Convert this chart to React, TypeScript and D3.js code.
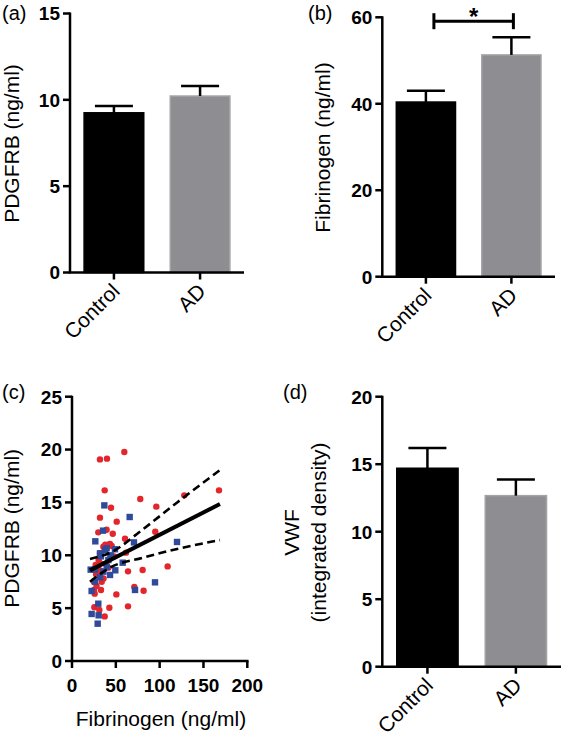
import React from "react";
import * as d3 from "d3";

// ---------- data ----------
const CATEGORIES = ["Control", "AD"];

const PDGFRB_MEAN = [9.25, 10.22];
const PDGFRB_SEM = [0.4, 0.58];
const PDGFRB_TICKS = [0, 5, 10, 15];

const FIB_MEAN = [40.4, 51.3];
const FIB_SEM = [2.6, 4.1];
const FIB_TICKS = [0, 20, 40, 60];

const VWF_MEAN = [14.7, 12.67];
const VWF_SEM = [1.5, 1.2];
const VWF_TICKS = [0, 5, 10, 15, 20];

const SCATTER_X_TICKS = [0, 50, 100, 150, 200];
const SCATTER_Y_TICKS = [0, 5, 10, 15, 20, 25];

// red circles: [fibrinogen, PDGFRB]
const RED_POINTS: [number, number][] = [
  [31.9, 19.07], [39.9, 19.14], [59.7, 19.77], [37.3, 16.14], [167.7, 16.14],
  [128.1, 15.67], [77.9, 15.32], [96.2, 14.6], [44.5, 14.5], [31.9, 13.56],
  [51, 13.18], [39.5, 12.42], [30, 12.17], [46.5, 12.04], [95, 12.23],
  [60.5, 11.57], [61.6, 10.25], [38, 10.75], [43.3, 11.07], [41.5, 10.97],
  [45.3, 10.88], [35.8, 10.8], [32, 10.19], [109.1, 8.95], [80.6, 8.61],
  [63.9, 8.48], [30.4, 9.55], [32, 9.24], [27, 9.08], [41.4, 8.83],
  [29, 8.7], [34, 8.5], [27.5, 8.2], [31, 8.0], [25.1, 7.5],
  [33.9, 7.5], [36, 7.8], [25.1, 6.72], [33.1, 6.72], [71.1, 7.0],
  [81.7, 6.65], [50.6, 6.3], [63.9, 5.17], [42.6, 5.04], [31.2, 4.82],
  [25.5, 5.08], [37.3, 4.22], [25.9, 6.37], [44, 9.9], [48, 9.9],
  [38.5, 9.2], [28, 7.1], [30, 8.9], [38, 11.0], [42, 11.0],
];

// blue squares
const BLUE_POINTS: [number, number][] = [
  [36.9, 14.72], [65.8, 13.62], [35.4, 12.33], [26.6, 11.32], [70.7, 11.22],
  [119.8, 11.26], [57.8, 9.3], [49, 10.57], [37.7, 10.5], [44.1, 10.0],
  [41.5, 9.55], [21.3, 8.64], [26.2, 8.64], [39.6, 8.92], [49.4, 8.58],
  [35.8, 8.45], [43.4, 8.14], [32, 7.92], [26.3, 7.5], [22.4, 6.62],
  [94.7, 7.44], [71.9, 6.72], [30, 5.42], [22.4, 4.45], [30.4, 4.32],
  [29.3, 3.53], [39.5, 10.66], [31.9, 10.18], [33, 9.9],
];

const FIT_X = [20.5, 168.8];
const FIT_Y = [8.57, 14.85];
const BAND_X = [20.5, 45, 80, 120, 168.8];
const BAND_UPPER = [9.65, 10.3, 12.4, 15.0, 18.06];
const BAND_LOWER = [7.5, 8.9, 9.75, 10.6, 11.44];

// ---------- styles ----------
const FONT = "'Liberation Sans', Arial, Helvetica, sans-serif";
const BAR_COLORS = ["#000000", "#8e8e92"];
const BAR_STROKES = ["#000000", "#a4a4a7"];
const RED = "#e2262b";
const BLUE = "#2f4a9b";

type BarPanelProps = {
  axisX: number;
  xEnd: number;
  yTop: number;
  yBottom: number;
  ticks: number[];
  means: number[];
  sems: number[];
  render?: (x: d3.ScaleBand<string>, y: d3.ScaleLinear<number, number>) => React.ReactNode;
};

function BarPanel({ axisX, xEnd, yTop, yBottom, ticks, means, sems, render }: BarPanelProps) {
  const y = d3.scaleLinear().domain([0, d3.max(ticks)!]).range([yBottom, yTop]);
  const x = d3
    .scaleBand<string>()
    .domain(CATEGORIES)
    .range([axisX, xEnd])
    .paddingInner(0.29)
    .paddingOuter(0.155);
  const bw = x.bandwidth();
  const cap = 19;
  return (
    <g>
      {CATEGORIES.map((c, i) => (
        <rect
          key={c}
          x={x(c)! + 0.75}
          y={y(means[i])}
          width={bw - 1.5}
          height={y(0) - y(means[i])}
          fill={BAR_COLORS[i]}
          stroke={BAR_STROKES[i]}
          strokeWidth={1.5}
        />
      ))}
      {CATEGORIES.map((c, i) => {
        const cx = x(c)! + bw / 2;
        return (
          <g key={c} stroke="#000" strokeWidth={2.5}>
            <line x1={cx} x2={cx} y1={y(means[i])} y2={y(means[i] + sems[i])} />
            <line x1={cx - cap} x2={cx + cap} y1={y(means[i] + sems[i])} y2={y(means[i] + sems[i])} />
          </g>
        );
      })}
      {/* y axis */}
      <line x1={axisX} x2={axisX} y1={yTop - 1} y2={yBottom} stroke="#000" strokeWidth={2.5} />
      {ticks.map((t) => (
        <g key={t}>
          <line x1={axisX - 7} x2={axisX} y1={y(t)} y2={y(t)} stroke="#000" strokeWidth={2.5} />
          <text
            x={axisX - 10}
            y={y(t)}
            dy="0.36em"
            textAnchor="end"
            fontFamily={FONT}
            fontWeight="bold"
            fontSize={19}
          >
            {t}
          </text>
        </g>
      ))}
      {/* x axis */}
      <line x1={axisX - 1.25} x2={xEnd} y1={yBottom} y2={yBottom} stroke="#000" strokeWidth={2.5} />
      {CATEGORIES.map((c) => {
        const cx = x(c)! + bw / 2;
        return (
          <g key={c}>
            <line x1={cx} x2={cx} y1={yBottom} y2={yBottom + 7} stroke="#000" strokeWidth={2.5} />
            <text
              transform={`translate(${cx + 7},${yBottom + 20}) rotate(-45)`}
              textAnchor="end"
              fontFamily={FONT}
              fontSize={21}
            >
              {c}
            </text>
          </g>
        );
      })}
      {render ? render(x, y) : null}
    </g>
  );
}

function ScatterPanel() {
  const x = d3.scaleLinear().domain([0, 200]).range([72, 247.3]);
  const y = d3.scaleLinear().domain([0, 25]).range([661, 396.7]);
  const fitLine = d3
    .line<number>()
    .x((_, i) => x(FIT_X[i]))
    .y((v) => y(v));
  const band = d3
    .line<number>()
    .x((_, i) => x(BAND_X[i]))
    .y((v) => y(v))
    .curve(d3.curveMonotoneX);
  const s = 6.4;
  return (
    <g>
      {RED_POINTS.map(([a, b], i) => (
        <circle key={"r" + i} cx={x(a)} cy={y(b)} r={3.2} fill={RED} />
      ))}
      {BLUE_POINTS.map(([a, b], i) => (
        <rect key={"b" + i} x={x(a) - s / 2} y={y(b) - s / 2} width={s} height={s} fill={BLUE} />
      ))}
      <path d={band(BAND_UPPER) || ""} fill="none" stroke="#000" strokeWidth={2.6} strokeDasharray="8,4.5" />
      <path d={band(BAND_LOWER) || ""} fill="none" stroke="#000" strokeWidth={2.6} strokeDasharray="8,4.5" />
      <path d={fitLine(FIT_Y) || ""} fill="none" stroke="#000" strokeWidth={4} />
      {/* axes */}
      <line x1={x(0)} x2={x(0)} y1={y(25) - 1} y2={y(0)} stroke="#000" strokeWidth={2.5} />
      {SCATTER_Y_TICKS.map((t) => (
        <g key={t}>
          <line x1={x(0) - 7} x2={x(0)} y1={y(t)} y2={y(t)} stroke="#000" strokeWidth={2.5} />
          <text x={x(0) - 10} y={y(t)} dy="0.36em" textAnchor="end" fontFamily={FONT} fontWeight="bold" fontSize={19}>
            {t}
          </text>
        </g>
      ))}
      <line x1={x(0) - 1.25} x2={x(200) + 1.25} y1={y(0)} y2={y(0)} stroke="#000" strokeWidth={2.5} />
      {SCATTER_X_TICKS.map((t) => (
        <g key={t}>
          <line x1={x(t)} x2={x(t)} y1={y(0)} y2={y(0) + 7} stroke="#000" strokeWidth={2.5} />
          <text x={x(t)} y={y(0) + 31} textAnchor="middle" fontFamily={FONT} fontWeight="bold" fontSize={19}>
            {t}
          </text>
        </g>
      ))}
      <text x={161} y={726} textAnchor="middle" fontFamily={FONT} fontSize={21}>
        Fibrinogen (ng/ml)
      </text>
    </g>
  );
}

function YTitle({ x, y, lines }: { x: number; y: number; lines: string[] }) {
  return (
    <text transform={`translate(${x},${y}) rotate(-90)`} textAnchor="middle" fontFamily={FONT} fontSize={21}>
      {lines.map((l, i) => (
        <tspan key={i} x={0} dy={i === 0 ? 0 : 27}>
          {l}
        </tspan>
      ))}
    </text>
  );
}

export default function App() {
  return (
    <svg
      width={566}
      height={742}
      viewBox="0 0 566 742"
      style={{ position: "absolute", left: 0, top: 0, background: "#fff" }}
    >
      <rect width={566} height={742} fill="#fff" />
      {/* (a) */}
      <text x={2} y={20} fontFamily={FONT} fontSize={20}>(a)</text>
      <YTitle x={19} y={143.5} lines={["PDGFRB (ng/ml)"]} />
      <BarPanel axisX={70} xEnd={244} yTop={13.5} yBottom={272.5} ticks={PDGFRB_TICKS} means={PDGFRB_MEAN} sems={PDGFRB_SEM} />

      {/* (b) */}
      <text x={308} y={20} fontFamily={FONT} fontSize={20}>(b)</text>
      <YTitle x={330} y={147.5} lines={["Fibrinogen (ng/ml)"]} />
      <BarPanel
        axisX={382.3}
        xEnd={555}
        yTop={17.3}
        yBottom={276.7}
        ticks={FIB_TICKS}
        means={FIB_MEAN}
        sems={FIB_SEM}
        render={(x, y) => {
          const bw = x.bandwidth();
          const x1 = x(CATEGORIES[0])! + bw / 2 + 8;
          const x2 = x(CATEGORIES[1])! + bw / 2 + 2;
          const yy = y(59.1);
          return (
            <g>
              <g stroke="#000" strokeWidth={3}>
                <line x1={x1} x2={x2} y1={yy} y2={yy} />
                <line x1={x1} x2={x1} y1={yy - 8} y2={yy + 8} />
                <line x1={x2} x2={x2} y1={yy - 8} y2={yy + 8} />
              </g>
              <text x={(x1 + x2) / 2} y={25} textAnchor="middle" fontFamily={FONT} fontWeight="bold" fontSize={24}>
                *
              </text>
            </g>
          );
        }}
      />

      {/* (c) */}
      <text x={2} y={399} fontFamily={FONT} fontSize={20}>(c)</text>
      <YTitle x={19} y={528.3} lines={["PDGFRB (ng/ml)"]} />
      <ScatterPanel />

      {/* (d) */}
      <text x={283} y={399} fontFamily={FONT} fontSize={20}>(d)</text>
      <YTitle x={299} y={532.5} lines={["VWF", "(integrated density)"]} />
      <BarPanel axisX={382.3} xEnd={561} yTop={396.7} yBottom={666.7} ticks={VWF_TICKS} means={VWF_MEAN} sems={VWF_SEM} />
    </svg>
  );
}
